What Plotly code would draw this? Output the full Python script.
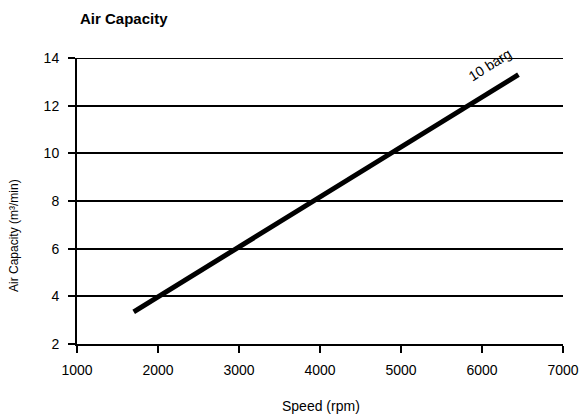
import plotly.graph_objects as go

# Data
speed_rpm = [1700, 2000, 3000, 4000, 5000, 6000, 6450]
air_capacity = [3.35, 3.98, 6.08, 8.18, 10.28, 12.38, 13.3]
series_name = '10 barg'

# plot area in pixels
L, R, T, B = 77, 19, 58, 76
pw, ph = 582 - L - R, 420 - T - B

fig = go.Figure()
fig.add_trace(go.Scatter(x=speed_rpm, y=air_capacity, mode='lines',
                         line=dict(color='black', width=5),
                         name=series_name, showlegend=False, hoverinfo='skip'))

# series label along the line
fig.add_annotation(x=6450, y=13.3, text=series_name, showarrow=False,
                   xanchor='right', yanchor='bottom', textangle=-32,
                   xshift=-2, yshift=-12,
                   font=dict(size=14, color='black'))

# top gridline (plotly skips the one on the range edge)
fig.add_shape(type='line', xref='paper', yref='y', x0=0, x1=1, y0=14, y1=14,
              line=dict(color='black', width=2))

# axis titles placed by hand
fig.add_annotation(xref='paper', yref='paper', x=(321 - L) / pw, y=-(406 - 344) / ph,
                   xanchor='center', yanchor='middle',
                   text='Speed (rpm)', showarrow=False, font=dict(size=14))
fig.add_annotation(xref='paper', yref='paper', x=(14 - L) / pw, y=(344 - 236) / ph,
                   xanchor='center', yanchor='middle',
                   text='Air Capacity (m³/min)', showarrow=False, textangle=-90,
                   font=dict(size=12))

fig.update_layout(
    width=582, height=420,
    margin=dict(l=L, r=R, t=T, b=B),
    paper_bgcolor='white', plot_bgcolor='white',
    font=dict(family='Arial, Liberation Sans, sans-serif', size=13, color='black'),
    title=dict(text='<b>Air Capacity</b>', x=80 / 582, xanchor='left',
               y=1 - 19 / 420, yanchor='middle', font=dict(size=15)),
    xaxis=dict(range=[1000, 7000], dtick=1000, showgrid=False, automargin=False,
               showline=True, linecolor='black', linewidth=2,
               ticks='outside', ticklen=7, tickcolor='black', tickwidth=1.5,
               ticklabelstandoff=5, tickfont=dict(size=14), zeroline=False),
    yaxis=dict(range=[2, 14], dtick=2, showgrid=True, gridcolor='black', gridwidth=1.5,
               automargin=False, showline=True, linecolor='black', linewidth=2,
               ticks='outside', ticklen=7, tickcolor='black', tickwidth=1.5,
               ticklabelstandoff=6, tickfont=dict(size=14), zeroline=False),
)

# drop the page's default body margin so the figure sits at the window's corner
fig.write_html("out.html", config={'displayModeBar': False},
               post_script="document.body.style.margin='0px';")
